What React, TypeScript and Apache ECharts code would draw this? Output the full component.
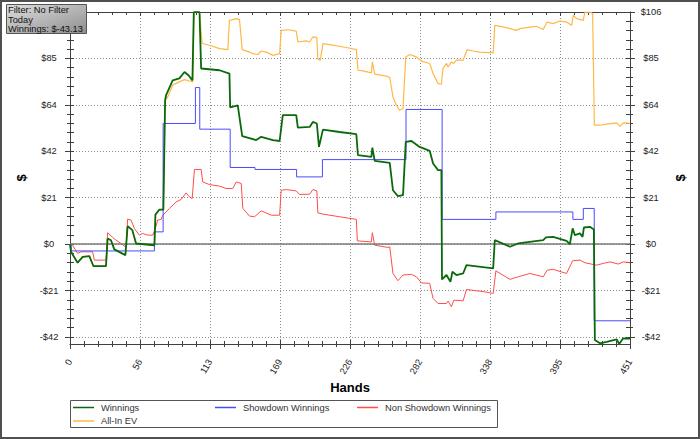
import React, { useEffect, useRef } from 'react';
import * as echarts from 'echarts';

// ---------- data ----------
const HAND_MAX = 451;
const X_TICK_LABELS = ['0', '56', '113', '169', '226', '282', '338', '395', '451'];
const Y_MIN = -45.6;
const Y_MAX = 106;
const Y_TICK_VALUES = [-42.4, -21.2, 0, 21.2, 42.4, 63.6, 84.8, 106];
const Y_TICK_LABELS = ['-$42', '-$21', '$0', '$21', '$42', '$64', '$85', '$106'];

const WINNINGS: number[][] = [
  [0, 0], [0.8, -3.5], [6.1, -8.5], [10.2, -5.8], [15.6, -5.5], [18.8, -10], [29, -10], [30.3, 2.6],
  [33, 1.8], [35.7, -2.4], [44.6, -5], [46.4, 8.2], [50.2, 6.4], [53.2, 0.3], [68, -0.5], [68.8, 13.5],
  [72, 15.8], [75.2, 15.8], [76.6, 65.7], [77.4, 68], [82.7, 74.8], [88.1, 75.7], [92.2, 78.6], [95.6, 77],
  [98.6, 74.8], [99.7, 105.9], [104.3, 105.9], [105.6, 80.2], [120.4, 79.4], [128.4, 77.9], [129, 62.4],
  [135.1, 63.4], [138.7, 49.3], [150, 47.5], [154, 49], [163.4, 47.5], [168.8, 47.1], [171.4, 58.9],
  [182.2, 58.9], [183.5, 53.2], [193, 53.5], [195.6, 55.8], [198.8, 55.1], [200.5, 44.4], [203.7, 52.3],
  [217.1, 51.2], [230.6, 50.2], [231.9, 40.6], [242.7, 39.8], [243.5, 44.1], [245.4, 38], [257.5, 37.1],
  [260.1, 24.6], [264.1, 21.9], [268.2, 22.4], [270.4, 46.7], [275, 47.1], [281.6, 44.4], [289.7, 42.6],
  [292.4, 36.8], [296.4, 33.8], [299.1, 33.8], [299.6, -16.1], [303.2, -14.1], [306.4, -17.2], [308, -12.6],
  [311.2, -14.1], [316.6, -13.4], [319.3, -9.6], [340.8, -11.1], [342.1, 1.8], [354.3, -1.2], [360.9, 0.3],
  [381.1, 1.8], [383.3, 3.1], [389.1, 3.3], [399.9, 1.5], [402.6, 0], [404.8, 7.2], [406.6, 4.1],
  [410.7, 4.9], [412.8, 3.3], [413.9, 7.6], [418.7, 7.9], [421.9, 6.7], [422.7, -43.8], [426.8, -45.3],
  [432.2, -44.6], [440.3, -43.5], [442.3, -45.6], [445.5, -43], [451, -43.13],
];

// step points: [hand where new value starts, new value]
const SHOWDOWN: number[][] = [
  [0, 0], [1, -3.1], [68, 5.6], [75, 55.1], [101, 71.5], [104.5, 52.5], [129, 35], [149, 34.1],
  [182.5, 30.7], [203.3, 38.6], [270.6, 61.5], [299.7, 11.3], [343, 14.7], [405, 11.3], [413.4, 16.3],
  [422.2, -35], [451, -35],
];

const NON_SHOWDOWN: number[][] = [
  [0, 0], [2.1, -0.5], [6.1, -4.2], [8.9, -3.5], [18.2, -3.5], [19.6, -7.3], [29, -7.3], [30.3, 5.2],
  [34.3, 3.1], [37.1, 1.8], [41.1, 0.3], [45.2, -1.5], [46.4, 11.4], [49.2, 11], [51.8, 7.2], [55.9, 4.1],
  [58.5, 4.9], [62.6, 4.1], [66.6, 4.1], [68.8, 7.2], [70.6, 11], [73.4, 11.3], [74.7, 13.2], [77.4, 14.7],
  [80.1, 16.3], [85.5, 19.3], [89.5, 20.4], [93.5, 23.4], [96.2, 21.6], [98.4, 20.8], [100.2, 34.1],
  [105.6, 34.1], [106.9, 28.4], [112.3, 27.2], [120.4, 26.5], [125.8, 25.4], [131.1, 25.4], [133.9, 28.4],
  [137.9, 27.7], [139.2, 16.3], [144.6, 12.8], [148.6, 12.5], [154, 15.2], [162.1, 13.2], [168.8, 13.2],
  [170.1, 24.6], [174.2, 24.9], [182.2, 24.3], [184.9, 22.7], [193, 22.8], [195.6, 24.9], [198.8, 24.3],
  [199.6, 14.3], [203.7, 13.7], [217.1, 12.5], [230.6, 11.3], [231.4, 1.5], [242.7, 1], [243.5, 5.2],
  [245.4, -0.5], [256.1, -1.5], [257.5, -1.2], [260.1, -13.4], [264.1, -16.7], [268.2, -14.1], [275, -13.8],
  [279, -14.9], [283, -17.7], [289.7, -17.9], [292.4, -24.8], [296.4, -27.1], [303.2, -27.1], [304.5, -26],
  [307.2, -28.6], [309.1, -25.6], [316.6, -25.9], [319.3, -20.7], [334.1, -21.8], [340.8, -22.5],
  [343, -12.2], [354.3, -16.1], [361, -14.9], [370.4, -13.4], [381.1, -14.9], [384.3, -11.9], [389.1, -11.5],
  [399.9, -13.4], [404.8, -7.6], [410.7, -7.3], [414.7, -8.5], [424.1, -9.6], [429.4, -8.8], [434.9, -8.1],
  [441.5, -9.1], [445.5, -8.1], [451, -8.5],
];

const ALLIN_EV: number[][] = [
  [0, 0], [0.8, -3.5], [6.1, -8.5], [10.2, -5.8], [15.6, -5.5], [18.8, -10], [29, -10], [30.3, 2.6],
  [33, 1.8], [35.7, -2.4], [44.6, -5], [46.4, 8.2], [50.2, 6.4], [53.2, 0.3], [68, -0.5], [68.8, 13.5],
  [72, 15.8], [75.2, 15.8], [76.6, 65.7], [78.7, 67.2], [82.7, 72.6], [88.1, 74.1], [92.2, 75.1],
  [96.2, 74.5], [98.9, 74.1], [99.8, 105.9], [104.3, 105.9], [106.4, 91.6], [112.3, 90.8], [120.4, 89.3],
  [127.1, 88.8], [128.4, 102.2], [131.1, 102.5], [133.9, 103], [136.5, 102.5], [138.7, 88.8], [144.6, 87.7],
  [147.2, 87], [151.3, 86.6], [154, 88.2], [158, 87.7], [163.4, 86.2], [168.8, 87], [170.1, 97.6],
  [175.5, 97.9], [182.2, 97.3], [183.5, 92.3], [190.3, 92.8], [193, 92.3], [195.6, 94.6], [198.8, 94.3],
  [199.6, 84.3], [201.6, 84], [203.7, 91.6], [209.1, 91.1], [222.5, 89.8], [230.6, 88.8], [231.9, 79.4],
  [235.9, 79.1], [242.7, 78.2], [243.5, 83.2], [245.4, 77.6], [254.8, 76.7], [257.5, 76.1], [260.1, 67.2],
  [262.9, 63.4], [265.5, 61.1], [268.2, 61.9], [270.4, 85.5], [273.6, 86.6], [279, 85.5], [283, 83.6],
  [289.7, 82.5], [292.4, 77.9], [296.4, 73.3], [299.1, 73], [300.4, 80.2], [303.2, 82.5], [304.5, 80.9],
  [307.2, 83.2], [309.1, 82.5], [311.2, 84], [316.6, 84], [319.8, 88.8], [324.6, 88.2], [330, 87.7],
  [340.8, 87.3], [342.1, 99.9], [348.8, 99.2], [359.6, 97.6], [362.3, 98.4], [371.7, 99.2], [375.7, 99.5],
  [381.1, 98], [384.3, 101.4], [389.1, 100.7], [394.5, 101.9], [399.9, 101.4], [404, 99.9], [405.3, 104.5],
  [408, 103], [413.3, 102.2], [414.7, 105.9], [419.3, 105.9], [420.9, 105.3], [422.3, 54.3], [426.8, 54.3],
  [432.2, 54.8], [440.3, 55.4], [442.9, 53.8], [445.5, 55.4], [451, 55.1],
];

const FILTER_LINES = ['Filter: No Filter', 'Today', 'Winnings: $-43.13'];
const LEGEND_ITEMS = ['Winnings', 'Showdown Winnings', 'Non Showdown Winnings', 'All-In EV'];

// ---------- styles ----------
const COLORS = { win: '#0a6a0a', sd: '#4a4aff', nsd: '#ff4d4d', ev: '#ffb845' };
const FONT = '"Liberation Sans", Arial, sans-serif';
const AXIS_COLOR = '#404040';
const LABEL_COLOR = '#222';
const GRID_LINE = { type: [1, 2], color: '#8c8c8c', width: 1 };

function yMinorTicks(): number[] {
  const out: number[] = [];
  for (let i = 0; i < Y_TICK_VALUES.length - 1; i++) {
    const a = Y_TICK_VALUES[i];
    const b = Y_TICK_VALUES[i + 1];
    for (let k = 1; k < 5; k++) out.push(+(a + ((b - a) * k) / 5).toFixed(4));
  }
  return out;
}

function yLabel(v: number): string {
  const i = Y_TICK_VALUES.findIndex((t) => Math.abs(t - v) < 1e-4);
  return i >= 0 ? Y_TICK_LABELS[i] : '';
}

export default function App() {
  const ref = useRef<HTMLDivElement>(null);

  useEffect(() => {
    if (!ref.current) return;
    const chart = echarts.init(ref.current, null, { renderer: 'svg' });
    const minor = yMinorTicks();
    const allY = [...Y_TICK_VALUES, ...minor];
    // the filter box covers the top label of the left axis
    const leftLabelValues = Y_TICK_VALUES.slice(0, -1);
    const xInterval = HAND_MAX / 8;
    const tickLine = { lineStyle: { color: AXIS_COLOR, width: 1 } };

    const xBase = {
      type: 'value' as const,
      min: 0,
      max: HAND_MAX,
      interval: xInterval,
      splitLine: { show: false },
      axisLabel: { show: false },
    };
    const yBase = {
      type: 'value' as const,
      min: Y_MIN,
      max: Y_MAX,
      splitLine: { show: false },
      axisLabel: { show: false },
      axisLine: { show: false, onZero: false },
    };

    const legendCols = [73, 215, 357];
    const legendRows = [407.5, 421];
    const legendColors = [COLORS.win, COLORS.sd, COLORS.nsd, COLORS.ev];
    const legendGraphics: any[] = [
      {
        type: 'rect',
        shape: { x: 70.5, y: 400.5, width: 427, height: 27 },
        style: { fill: '#fff', stroke: '#555', lineWidth: 1 },
        silent: true,
        z: 50,
      },
    ];
    LEGEND_ITEMS.forEach((name, i) => {
      const cx = legendCols[i % 3];
      const cy = legendRows[Math.floor(i / 3)];
      legendGraphics.push({
        type: 'line',
        shape: { x1: cx, y1: cy, x2: cx + 21, y2: cy },
        style: { stroke: legendColors[i], lineWidth: 1.5 },
        silent: true,
        z: 51,
      });
      legendGraphics.push({
        type: 'text',
        x: cx + 28,
        y: cy,
        style: { text: name, fontSize: 9.3, fontFamily: FONT, fill: '#333', align: 'left', verticalAlign: 'middle' },
        silent: true,
        z: 51,
      });
    });

    const option: any = {
      animation: false,
      backgroundColor: '#fff',
      grid: { left: 70, right: 70, top: 12, bottom: 95, containLabel: false, outerBoundsMode: 'none' },
      xAxis: [
        {
          ...xBase,
          position: 'bottom',
          axisLine: { show: true, onZero: false, lineStyle: { color: AXIS_COLOR, width: 1 } },
          axisTick: { show: true, length: 5, ...tickLine },
          minorTick: { show: true, splitNumber: 5, length: 3, ...tickLine },
          axisLabel: {
            show: true,
            rotate: 60,
            margin: 16,
            fontSize: 9.3,
            fontFamily: FONT,
            color: LABEL_COLOR,
            showMinLabel: true,
            showMaxLabel: true,
            formatter: (v: number) => X_TICK_LABELS[Math.round(v / xInterval)] ?? '',
          },
          splitLine: { show: true, lineStyle: GRID_LINE },
        },
        {
          ...xBase,
          position: 'bottom',
          axisLine: { show: false, onZero: false },
          axisTick: { show: true, inside: true, length: 4, ...tickLine },
          minorTick: { show: true, splitNumber: 5, length: 3, ...tickLine },
        },
        {
          ...xBase,
          position: 'top',
          axisLine: { show: true, onZero: false, lineStyle: { color: AXIS_COLOR, width: 1 } },
          axisTick: { show: true, inside: true, length: 4, ...tickLine },
          minorTick: { show: true, splitNumber: 5, length: 3, ...tickLine },
        },
      ],
      yAxis: [
        {
          ...yBase,
          position: 'left',
          axisLine: { show: true, onZero: false, lineStyle: { color: AXIS_COLOR, width: 1 } },
          axisTick: { show: true, length: 5, customValues: Y_TICK_VALUES, ...tickLine },
          axisLabel: {
            show: true,
            customValues: leftLabelValues,
            formatter: yLabel,
            align: 'center',
            margin: 21,
            fontSize: 9.3,
            fontFamily: FONT,
            color: LABEL_COLOR,
          },
          splitLine: { show: true, lineStyle: GRID_LINE },
        },
        { ...yBase, position: 'left', axisTick: { show: true, length: 3, customValues: minor, ...tickLine } },
        { ...yBase, position: 'left', axisTick: { show: true, inside: true, length: 4, customValues: allY, ...tickLine } },
        {
          ...yBase,
          position: 'right',
          axisLine: { show: true, onZero: false, lineStyle: { color: AXIS_COLOR, width: 1 } },
          axisTick: { show: true, length: 5, customValues: Y_TICK_VALUES, ...tickLine },
          axisLabel: {
            show: true,
            customValues: Y_TICK_VALUES,
            formatter: yLabel,
            align: 'center',
            margin: 21,
            fontSize: 9.3,
            fontFamily: FONT,
            color: LABEL_COLOR,
          },
        },
        { ...yBase, position: 'right', axisTick: { show: true, length: 3, customValues: minor, ...tickLine } },
        { ...yBase, position: 'right', axisTick: { show: true, inside: true, length: 4, customValues: allY, ...tickLine } },
      ],
      series: [
        {
          name: 'All-In EV',
          type: 'line',
          data: ALLIN_EV,
          showSymbol: false,
          symbol: 'none',
          lineStyle: { color: COLORS.ev, width: 1.2 },
          markLine: {
            silent: true,
            symbol: ['none', 'none'],
            label: { show: false },
            lineStyle: { color: '#7a7a7a', type: 'solid', width: 1.5 },
            data: [{ yAxis: 0 }],
          },
          z: 2,
        },
        {
          name: 'Non Showdown Winnings',
          type: 'line',
          data: NON_SHOWDOWN,
          showSymbol: false,
          symbol: 'none',
          lineStyle: { color: COLORS.nsd, width: 1 },
          z: 3,
        },
        {
          name: 'Showdown Winnings',
          type: 'line',
          data: SHOWDOWN,
          step: 'end',
          showSymbol: false,
          symbol: 'none',
          lineStyle: { color: COLORS.sd, width: 1 },
          z: 4,
        },
        {
          name: 'Winnings',
          type: 'line',
          data: WINNINGS,
          showSymbol: false,
          symbol: 'none',
          lineStyle: { color: COLORS.win, width: 1.8 },
          z: 5,
        },
      ],
      graphic: [
        {
          type: 'rect',
          shape: { x: 1, y: 1, width: 698, height: 437 },
          style: { fill: 'none', stroke: '#505050', lineWidth: 2 },
          silent: true,
          z: 100,
        },
        {
          type: 'rect',
          shape: { x: 6.5, y: 4.5, width: 80, height: 29 },
          style: {
            fill: new echarts.graphic.LinearGradient(0, 0, 1, 1, [
              { offset: 0, color: '#dedede' },
              { offset: 1, color: '#8e8e8e' },
            ]),
            stroke: '#555',
            lineWidth: 1,
          },
          silent: true,
          z: 60,
        },
        ...FILTER_LINES.map((t, i) => ({
          type: 'text',
          x: 8,
          y: 10 + i * 9.5,
          style: { text: t, fontSize: 9.3, fontFamily: FONT, fill: '#111', align: 'left', verticalAlign: 'middle' },
          silent: true,
          z: 61,
        })),
        {
          type: 'text',
          x: 350,
          y: 387,
          style: { text: 'Hands', fontSize: 13, fontWeight: 'bold', fontFamily: FONT, fill: '#000', align: 'center', verticalAlign: 'middle' },
          silent: true,
          z: 50,
        },
        {
          type: 'text',
          x: 21,
          y: 178,
          rotation: Math.PI / 2,
          style: { text: '$', fontSize: 13, fontWeight: 'bold', fontFamily: FONT, fill: '#000', align: 'center', verticalAlign: 'middle' },
          silent: true,
          z: 50,
        },
        {
          type: 'text',
          x: 680,
          y: 178,
          rotation: Math.PI / 2,
          style: { text: '$', fontSize: 13, fontWeight: 'bold', fontFamily: FONT, fill: '#000', align: 'center', verticalAlign: 'middle' },
          silent: true,
          z: 50,
        },
        ...legendGraphics,
      ],
    };

    chart.setOption(option);
    return () => chart.dispose();
  }, []);

  return (
    <div
      ref={ref}
      style={{ position: 'fixed', left: 0, top: 0, width: 700, height: 439, background: '#fff' }}
    />
  );
}
